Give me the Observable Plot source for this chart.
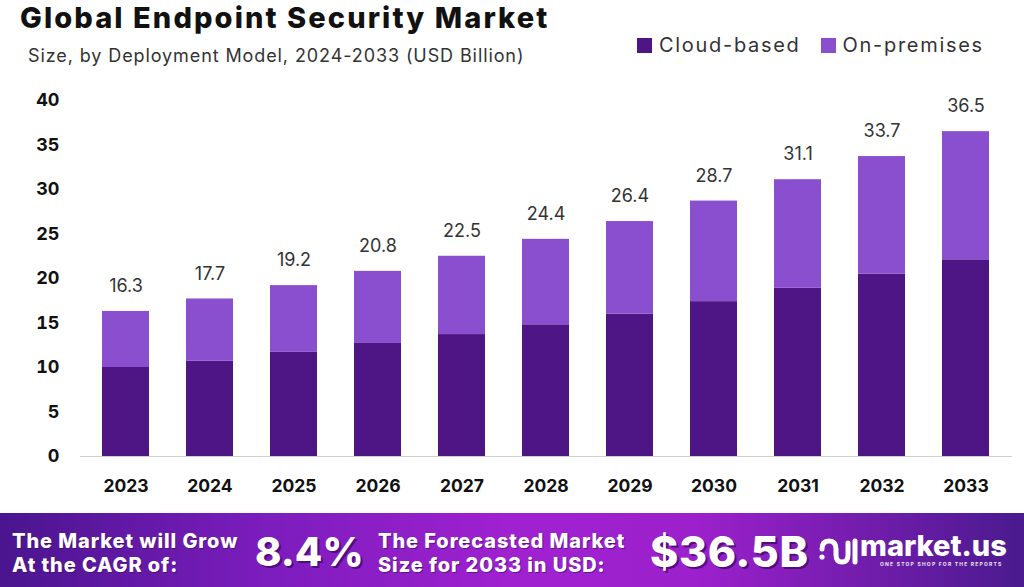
<!DOCTYPE html>
<html>
<head>
<meta charset="utf-8">
<script src="https://cdn.jsdelivr.net/npm/d3@7"></script>
<script src="https://cdn.jsdelivr.net/npm/@observablehq/plot@0.6"></script>
<style>
  html, body { margin: 0; padding: 0; background: #fff; }
  #page { position: relative; width: 1024px; height: 587px; overflow: hidden; background: #fff; font-family: Inter, "Open Sans", sans-serif; }
  #title { position: absolute; left: 20px; top: 0px; font-size: 29px; font-weight: 800; color: #111; letter-spacing: 2.1px; white-space: nowrap; }
  #subtitle { position: absolute; left: 28px; top: 45px; font-size: 18px; color: #333; letter-spacing: 0.9px; white-space: nowrap; }
  #legend { position: absolute; left: 637px; top: 33px; display: flex; align-items: center; font-size: 20px; color: #333; letter-spacing: 1.7px; white-space: nowrap; }
  #legend .sw { display: inline-block; width: 15px; height: 15px; margin-right: 7px; }
  #legend .item { display: flex; align-items: center; margin-right: 20px; }
  #chart { position: absolute; left: 0; top: 80px; }
  #banner { position: absolute; left: 0; top: 513px; width: 1024px; height: 74px;
    background: linear-gradient(90deg, #4a158e 0%, #7a1cbc 25%, #a021d0 50%, #9c20cc 68%, #4a1a8e 100%); color: #fff; }
  #banner .small { position: absolute; font-size: 20px; font-weight: 800; line-height: 24px; letter-spacing: 0.9px; white-space: nowrap; text-shadow: 1px 1px 0 rgba(60,10,90,0.6); }
  #banner .big { position: absolute; font-weight: 800; white-space: nowrap; text-shadow: 2px 2px 0 rgba(70,10,110,0.85); }
  #brand { position: absolute; left: 860px; top: 18px; font-size: 29px; font-weight: 800; white-space: nowrap; line-height: 30px; }
  #tag { position: absolute; left: 880px; top: 48px; font-size: 5px; font-weight: 700; letter-spacing: 1.2px; white-space: nowrap; opacity: 0.9; }
</style>
</head>
<body>
<div id="page">
  <div id="title">Global Endpoint Security Market</div>
  <div id="subtitle">Size, by Deployment Model, 2024-2033 (USD Billion)</div>
  <div id="legend"></div>
  <div id="chart"></div>
  <div id="banner">
    <div class="small" style="left:12px; top:16px;">The Market will Grow<br>At the CAGR of:</div>
    <div class="big" id="cagr" style="left:255px; top:14px; font-size:40px;"></div>
    <div class="small" style="left:378px; top:16px;">The Forecasted Market<br>Size for 2033 in USD:</div>
    <div class="big" id="forecast" style="left:650px; top:12px; font-size:43px; letter-spacing:0.5px;"></div>
    <svg style="position:absolute; left:818px; top:24px;" width="40" height="30" viewBox="0 0 40 30">
      <path d="M4 12 Q4 4 11 4 Q18 4 18 12 L18 18 Q18 25 24 25 Q30 25 30 18 L30 6" fill="none" stroke="#fff" stroke-width="5" stroke-linecap="round"/>
      <path d="M37 4 L37 25" fill="none" stroke="#fff" stroke-width="5" stroke-linecap="round"/>
      <circle cx="4" cy="20" r="2.6" fill="#fff"/>
    </svg>
    <div id="brand">market.us</div>
    <div id="tag">ONE STOP SHOP FOR THE REPORTS</div>
  </div>
</div>
<script>
// Market size by deployment model, USD billion
const years = ["2023", "2024", "2025", "2026", "2027", "2028", "2029", "2030", "2031", "2032", "2033"];
const cloudBased = [10.0, 10.7, 11.7, 12.7, 13.7, 14.8, 16.0, 17.4, 18.9, 20.5, 22.1];
const onPremises = [6.3, 7.0, 7.5, 8.1, 8.8, 9.6, 10.4, 11.3, 12.2, 13.2, 14.4];
const totals = [16.3, 17.7, 19.2, 20.8, 22.5, 24.4, 26.4, 28.7, 31.1, 33.7, 36.5];
const seriesNames = ["Cloud-based", "On-premises"];
const seriesColors = ["#4e1585", "#8a4fcf"];
const yTicks = [0, 5, 10, 15, 20, 25, 30, 35, 40];
const cagrText = "8.4%";
const forecastText = "$36.5B";

const rows = [];
years.forEach((year, i) => {
  rows.push({ year, series: seriesNames[0], value: cloudBased[i] });
  rows.push({ year, series: seriesNames[1], value: onPremises[i] });
});
const totalRows = years.map((year, i) => ({ year, total: totals[i] }));

const chart = Plot.plot({
  width: 1024,
  height: 430,
  marginTop: 20,
  marginBottom: 54,
  marginLeft: 80,
  marginRight: 12,
  style: { fontFamily: "Inter, 'Open Sans', sans-serif", background: "transparent" },
  x: { domain: years, paddingInner: 0.44, paddingOuter: 0.25, label: null },
  y: { domain: [0, 40], label: null },
  color: { domain: seriesNames, range: seriesColors },
  marks: [
    Plot.axisY({ ticks: yTicks, tickSize: 0, tickPadding: 21, fontSize: 18, fontWeight: 700, fill: "#111", label: null }),
    Plot.axisX({ tickSize: 0, tickPadding: 23, fontSize: 17.5, fontWeight: 700, fill: "#111", label: null }),
    Plot.barY(rows, { x: "year", y: "value", fill: "series", order: seriesNames }),
    Plot.ruleY([0], { stroke: "#cfcfcf", strokeWidth: 1.2 }),
    Plot.text(totalRows, { x: "year", y: "total", text: d => d.total.toFixed(1), dy: -25, fontSize: 18, fill: "#333" })
  ]
});
document.getElementById("chart").appendChild(chart);

// legend
const legend = document.getElementById("legend");
seriesNames.forEach((name, i) => {
  const item = document.createElement("div");
  item.className = "item";
  item.innerHTML = `<span class="sw" style="background:${seriesColors[i]}"></span>${name}`;
  legend.appendChild(item);
});

document.getElementById("cagr").textContent = cagrText;
document.getElementById("forecast").textContent = forecastText;
</script>
</body>
</html>
